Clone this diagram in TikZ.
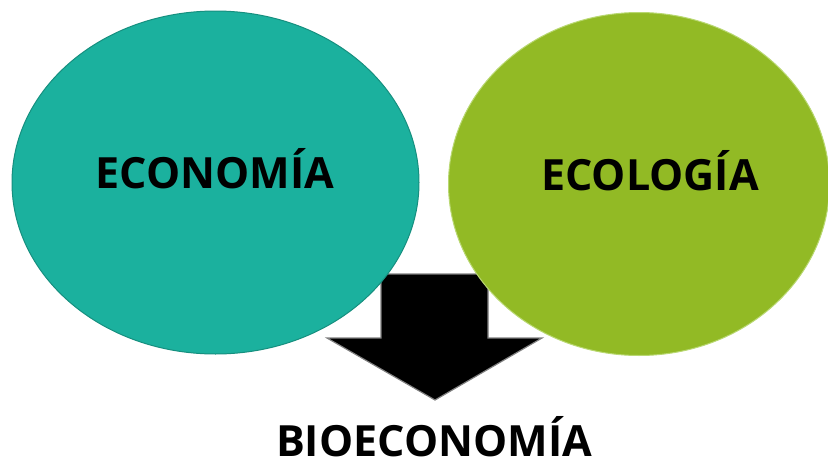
\documentclass[tikz,border=0pt]{standalone}
\usepackage{fontspec}
\setmainfont{Open Sans}
\usetikzlibrary{shapes.geometric}
\definecolor{teal1}{HTML}{1BB19E}
\definecolor{teal2}{HTML}{168F7F}
\definecolor{green1}{HTML}{92BA25}
\definecolor{green2}{HTML}{B9D872}
\tikzset{
  bubble/.style={ellipse, minimum width=#1, inner sep=0pt},
  lbl/.style={font=\fontsize{43}{43}\selectfont\bfseries, text=black, inner sep=0pt},
  blockarrow/.style={fill=black, draw=gray, line width=1.2pt, line join=miter},
}
\begin{document}
\begin{tikzpicture}[x=1pt,y=-1pt]
\useasboundingbox (0,0) rectangle (828,461);
% arrow
\coordinate (a1) at (381,274);
\coordinate (a2) at (488,274);
\coordinate (a3) at (488,338);
\coordinate (a4) at (542,338);
\coordinate (a5) at (435,400);
\coordinate (a6) at (327,338);
\coordinate (a7) at (381,338);
\draw[blockarrow] (a1) -- (a2) -- (a3) -- (a4) -- (a5) -- (a6) -- (a7) -- cycle;
% ellipses
\node[bubble=407pt, minimum height=343pt, fill=teal1, draw=teal2, line width=1pt] (eco) at (215.5,182.5) {};
\node[bubble=381pt, minimum height=343pt, fill=green1, draw=green2, line width=1pt] (ecol) at (639,184) {};
% labels
\node[lbl, anchor=base] (t1) at (215,188.5) {ECONOMÍA};
\node[lbl, anchor=base] (t2) at (650,190) {ECOLOGÍA};
\node[lbl, anchor=base] (t3) at (434,456) {BIOECONOMÍA};
\end{tikzpicture}
\end{document}
